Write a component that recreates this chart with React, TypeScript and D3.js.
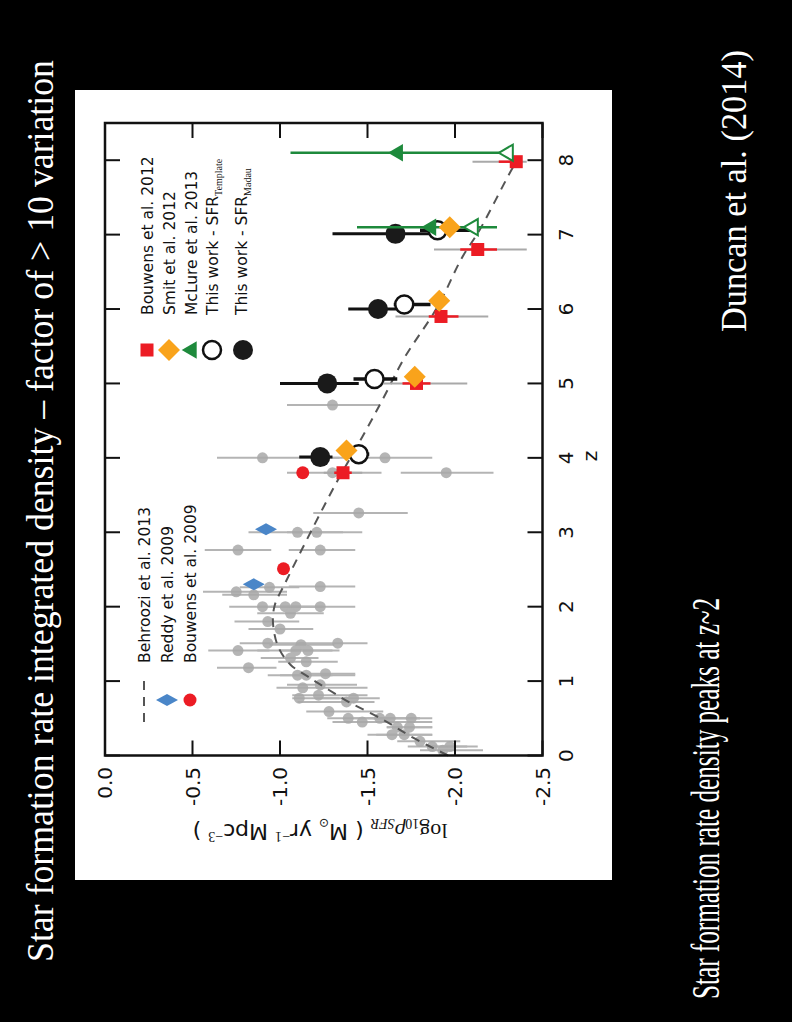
import React from 'react';
import * as d3 from 'd3';

// ---------- data ----------
const zTicks = [0, 1, 2, 3, 4, 5, 6, 7, 8];
const yTicks = [0.0, -0.5, -1.0, -1.5, -2.0, -2.5];
const yTickLabels = ['0.0', '-0.5', '-1.0', '-1.5', '-2.0', '-2.5'];

// Behroozi et al. 2013 fit
const behZ = [0, 0.24, 0.48, 0.71, 0.88, 1.06, 1.22, 1.46, 1.78, 2.02, 2.32, 3.07, 3.7, 4.28, 4.8, 5.34, 6.03, 6.69, 7.06, 7.94, 8.0];
const behV = [-1.96, -1.76, -1.59, -1.40, -1.28, -1.16, -1.06, -0.99, -0.96, -0.97, -1.03, -1.19, -1.33, -1.47, -1.59, -1.71, -1.90, -2.04, -2.14, -2.34, -2.36];

// grey compilation
const grayZ = [4.71, 4.00, 4.00, 3.80, 3.80, 3.26, 3.00, 3.00, 2.76, 2.76, 2.27, 2.20, 2.16, 2.26, 2.00, 2.00, 2.00, 2.00, 1.91, 1.80, 1.70, 1.51, 1.49, 1.51, 1.41, 1.41, 1.41, 1.31, 1.26, 1.18, 1.08, 1.10, 1.08, 0.91, 0.95, 0.81, 0.77, 0.72, 0.77, 0.59, 0.50, 0.45, 0.50, 0.50, 0.50, 0.38, 0.38, 0.28, 0.28, 0.19, 0.12, 0.12, 0.07];
const grayV = [-1.30, -0.90, -1.60, -1.30, -1.95, -1.45, -1.10, -1.21, -0.76, -1.23, -1.23, -0.75, -0.85, -0.94, -0.90, -1.03, -1.09, -1.23, -1.06, -0.93, -1.00, -0.93, -1.12, -1.33, -0.76, -1.09, -1.16, -1.06, -1.15, -0.82, -1.10, -1.26, -1.15, -1.13, -1.23, -1.22, -1.11, -1.38, -1.42, -1.28, -1.39, -1.47, -1.57, -1.63, -1.75, -1.67, -1.74, -1.64, -1.71, -1.80, -1.87, -1.97, -1.93];
const grayHi = [-1.04, -0.64, -1.30, -1.04, -1.69, -1.19, -0.82, -1.04, -0.57, -1.05, -1.05, -0.56, -0.67, -0.77, -0.71, -0.87, -0.95, -1.04, -0.87, -0.74, -0.82, -0.77, -0.94, -1.11, -0.59, -0.87, -1.00, -0.89, -0.99, -0.64, -0.93, -1.11, -1.00, -0.98, -1.04, -1.07, -1.07, -1.10, -1.23, -1.15, -1.27, -1.30, -1.42, -1.50, -1.53, -1.61, -1.61, -1.50, -1.55, -1.67, -1.73, -1.84, -1.80];
const grayLo = [-1.57, -1.34, -1.87, -1.58, -2.22, -1.73, -1.36, -1.47, -0.95, -1.43, -1.43, -1.04, -1.04, -1.11, -1.11, -1.25, -1.24, -1.43, -1.25, -1.11, -1.19, -1.14, -1.31, -1.50, -0.94, -1.30, -1.34, -1.22, -1.33, -0.98, -1.43, -1.43, -1.30, -1.50, -1.44, -1.50, -1.34, -1.54, -1.57, -1.59, -1.63, -1.87, -1.80, -1.80, -1.87, -1.87, -1.87, -1.87, -1.87, -2.03, -2.07, -2.13, -2.16];

// Bouwens et al. 2012 (red squares)
const bou12Z = [3.8, 5.0, 5.9, 6.8, 7.98];
const bou12V = [-1.36, -1.78, -1.92, -2.13, -2.35];
const bou12TotHi = [-1.25, -1.59, -1.66, -1.88, -2.10];
const bou12TotLo = [-1.47, -2.07, -2.19, -2.41, -2.41];
const bou12Hi = [-1.31, -1.70, -1.85, -2.03, -2.25];
const bou12Lo = [-1.41, -1.86, -2.02, -2.24, -2.37];

// Smit et al. 2012 (orange diamonds)
const smitZ = [4.1, 5.09, 6.11, 7.1];
const smitV = [-1.38, -1.77, -1.91, -1.97];

// McLure et al. 2013 (green triangles)
const mclZ = [7.1, 8.1];
const mclV = [-1.86, -1.67];
const mclOpenV = [-2.10, -2.30];
const mclHi = [-1.44, -1.06];
const mclLo = [-2.24, -2.31];

// This work - SFR Template (open circles)
const tplZ = [4.05, 5.06, 6.06, 7.06];
const tplV = [-1.45, -1.54, -1.71, -1.90];
const tplHi = [-1.38, -1.42, -1.65, -1.80];
const tplLo = [-1.51, -1.67, -1.86, -2.09];

// This work - SFR Madau (filled circles)
const madZ = [4.01, 5.0, 6.0, 7.01];
const madV = [-1.23, -1.27, -1.56, -1.66];
const madHi = [-1.11, -1.00, -1.39, -1.30];
const madLo = [-1.30, -1.45, -1.69, -1.87];

// Reddy et al. 2009 (blue thin diamonds)
const reddyZ = [2.3, 3.04];
const reddyV = [-0.85, -0.92];

// Bouwens et al. 2009 (red circles)
const bou09Z = [2.51, 3.8];
const bou09V = [-1.02, -1.13];

// ---------- styles ----------
const RED = '#ec1c24';
const ORANGE = '#f9a31b';
const GREEN = '#1e8a3c';
const BLUE = '#4a86c8';
const SANS = '"DejaVu Sans", sans-serif';
const SERIF = '"Liberation Serif", "DejaVu Serif", serif';

const Square = ({ cx, cy, s, fill }: any) => (
  <rect x={cx - s / 2} y={cy - s / 2} width={s} height={s} fill={fill} />
);
const Diamond = ({ cx, cy, w, h, fill }: any) => (
  <path d={`M${cx},${cy - h} L${cx + w},${cy} L${cx},${cy + h} L${cx - w},${cy} Z`} fill={fill} />
);
const Tri = ({ cx, cy, s, fill, stroke, sw }: any) => (
  <path
    d={`M${cx},${cy - s * 0.62} L${cx + s * 0.58},${cy + s * 0.38} L${cx - s * 0.58},${cy + s * 0.38} Z`}
    fill={fill}
    stroke={stroke || 'none'}
    strokeWidth={sw || 0}
  />
);

export default function App() {
  const x = d3.scaleLinear().domain([0, 8.5]).range([266.5, 899]);
  const y = d3.scaleLinear().domain([-2.5, 0]).range([542.5, 105]);
  const behLine = d3
    .line<number>()
    .x((_, i) => x(behZ[i]))
    .y((d) => y(d))
    .curve(d3.curveCatmullRom.alpha(0.5))(behV) as string;

  const x0 = x(0), x1 = x(8.5), y0 = y(0), y1 = y(-2.5);
  const tickLen = 15;

  return (
    <svg width={792} height={1022} style={{ position: 'absolute', left: 0, top: 0, display: 'block' }}>
      <rect x={0} y={0} width={792} height={1022} fill="#000" />
      <g transform="translate(0,1022) rotate(-90)">
        {/* slide titles */}
        <text x={60} y={53} fill="#fff" fontFamily={SERIF} fontSize={37} textLength={902} lengthAdjust="spacingAndGlyphs">
          Star formation rate integrated density – factor of &gt; 10 variation
        </text>
        <text transform="translate(23,719) scale(0.63,1)" x={0} y={0} fill="#fff" fontFamily={SERIF} fontSize={40}>
          Star formation rate density peaks at z~2
        </text>
        <text x={690} y={746} fill="#fff" fontFamily={SERIF} fontSize={35} textLength={282} lengthAdjust="spacingAndGlyphs">
          Duncan et al. (2014)
        </text>

        {/* white panel */}
        <rect x={142} y={75} width={790} height={537} fill="#fff" />

        {/* grey compilation */}
        <g stroke="#9c9c9c" strokeWidth={2} opacity={0.75}>
          {grayZ.map((z, i) => (
            <line key={'ge' + i} x1={x(z)} x2={x(z)} y1={y(grayHi[i])} y2={y(grayLo[i])} />
          ))}
        </g>
        <g fill="#a9a9a9" opacity={0.85}>
          {grayZ.map((z, i) => (
            <circle key={'gp' + i} cx={x(z)} cy={y(grayV[i])} r={5.5} />
          ))}
        </g>

        {/* Behroozi line */}
        <path d={behLine} fill="none" stroke="#555" strokeWidth={2} strokeDasharray="9,7" />

        {/* Reddy 2009 */}
        {reddyZ.map((z, i) => (
          <Diamond key={'rd' + i} cx={x(z)} cy={y(reddyV[i])} w={6} h={11} fill={BLUE} />
        ))}
        {/* Bouwens 2009 */}
        {bou09Z.map((z, i) => (
          <circle key={'b9' + i} cx={x(z)} cy={y(bou09V[i])} r={6.5} fill={RED} />
        ))}

        {/* This work - Madau */}
        <g stroke="#111" strokeWidth={3}>
          {madZ.map((z, i) => (
            <line key={'me' + i} x1={x(z)} x2={x(z)} y1={y(madHi[i])} y2={y(madLo[i])} />
          ))}
        </g>
        {madZ.map((z, i) => (
          <circle key={'mp' + i} cx={x(z)} cy={y(madV[i])} r={10} fill="#1a1a1a" />
        ))}
        {/* This work - Template */}
        <g stroke="#111" strokeWidth={3.5}>
          {tplZ.map((z, i) => (
            <line key={'te' + i} x1={x(z)} x2={x(z)} y1={y(tplHi[i])} y2={y(tplLo[i])} />
          ))}
        </g>
        {tplZ.map((z, i) => (
          <circle key={'tp' + i} cx={x(z)} cy={y(tplV[i])} r={9} fill="#fff" stroke="#111" strokeWidth={2.5} />
        ))}

        {/* Bouwens 2012 */}
        <g stroke="#a9a9a9" strokeWidth={2}>
          {bou12Z.map((z, i) => (
            <line key={'bt' + i} x1={x(z)} x2={x(z)} y1={y(bou12TotHi[i])} y2={y(bou12TotLo[i])} />
          ))}
        </g>
        <g stroke={RED} strokeWidth={2.5}>
          {bou12Z.map((z, i) => (
            <line key={'be' + i} x1={x(z)} x2={x(z)} y1={y(bou12Hi[i])} y2={y(bou12Lo[i])} />
          ))}
        </g>
        {bou12Z.map((z, i) => (
          <Square key={'bs' + i} cx={x(z)} cy={y(bou12V[i])} s={13} fill={RED} />
        ))}

        {/* McLure 2013 */}
        <g stroke={GREEN} strokeWidth={2.5}>
          {mclZ.map((z, i) => (
            <line key={'ce' + i} x1={x(z)} x2={x(z)} y1={y(mclHi[i])} y2={y(mclLo[i])} />
          ))}
        </g>
        {mclZ.map((z, i) => (
          <Tri key={'co' + i} cx={x(z)} cy={y(mclOpenV[i])} s={14} fill="#fff" stroke={GREEN} sw={2} />
        ))}
        {mclZ.map((z, i) => (
          <Tri key={'cf' + i} cx={x(z)} cy={y(mclV[i])} s={15} fill={GREEN} />
        ))}

        {/* Smit 2012 */}
        {smitZ.map((z, i) => (
          <Diamond key={'sm' + i} cx={x(z)} cy={y(smitV[i])} w={11} h={11} fill={ORANGE} />
        ))}

        {/* frame */}
        <rect x={x0} y={y0} width={x1 - x0} height={y1 - y0} fill="none" stroke="#111" strokeWidth={2.5} />
        <g stroke="#111" strokeWidth={2}>
          {zTicks.map((t) => (
            <g key={'zt' + t}>
              <line x1={x(t)} x2={x(t)} y1={y1} y2={y1 - tickLen} />
              <line x1={x(t)} x2={x(t)} y1={y0} y2={y0 + tickLen} />
            </g>
          ))}
          {yTicks.map((t) => (
            <g key={'yt' + t}>
              <line x1={x0} x2={x0 + tickLen} y1={y(t)} y2={y(t)} />
              <line x1={x1} x2={x1 - tickLen} y1={y(t)} y2={y(t)} />
            </g>
          ))}
        </g>

        {/* tick labels */}
        <g fontFamily={SANS} fontSize={20} fill="#111">
          {zTicks.map((t) => (
            <text key={'zl' + t} x={x(t)} y={573} textAnchor="middle">
              {t}
            </text>
          ))}
          {yTicks.map((t, i) => (
            <text key={'yl' + t} x={255} y={y(t) + 7} textAnchor="end">
              {yTickLabels[i]}
            </text>
          ))}
        </g>
        <text x={566} y={597} textAnchor="middle" fontFamily={SANS} fontSize={20} fill="#111">
          z
        </text>

        {/* y label */}
        <text transform="translate(198,320) rotate(-90)" textAnchor="middle" fill="#111" fontSize={22} fontFamily={SANS}>
          <tspan fontFamily={SERIF}>log</tspan>
          <tspan fontFamily={SERIF} fontSize={14} dy={5}>10</tspan>
          <tspan fontFamily={SERIF} fontStyle="italic" dy={-5}>ρ</tspan>
          <tspan fontFamily={SERIF} fontStyle="italic" fontSize={14} dy={5}>SFR</tspan>
          <tspan dy={-5}> ( M</tspan>
          <tspan fontSize={12} dy={5}>⊙</tspan>
          <tspan dy={-5}> yr</tspan>
          <tspan fontFamily={SERIF} fontSize={14} dy={-8}>−1</tspan>
          <tspan dy={8}> Mpc</tspan>
          <tspan fontFamily={SERIF} fontSize={14} dy={-8}>−3</tspan>
          <tspan dy={8}> )</tspan>
        </text>

        {/* legend (high-z) */}
        <g fontFamily={SANS} fontSize={15.5} fill="#111">
          <Square cx={672} cy={147} s={13} fill={RED} />
          <text x={707} y={152.5}>Bouwens et al. 2012</text>
          <Diamond cx={672} cy={169} w={11} h={11} fill={ORANGE} />
          <text x={707} y={174.5}>Smit et al. 2012</text>
          <Tri cx={672} cy={191} s={15} fill={GREEN} />
          <text x={707} y={196.5}>McLure et al. 2013</text>
          <circle cx={672} cy={212} r={9} fill="#fff" stroke="#111" strokeWidth={2.5} />
          <text x={707} y={217.5}>
            This work - SFR<tspan fontFamily={SERIF} fontSize={10} dy={4}>Template</tspan>
          </text>
          <circle cx={672} cy={243} r={10} fill="#1a1a1a" />
          <text x={707} y={246.5}>
            This work - SFR<tspan fontFamily={SERIF} fontSize={10} dy={4}>Madau</tspan>
          </text>
        </g>

        {/* legend (low-z) */}
        <g fontFamily={SANS} fontSize={15.5} fill="#111">
          <line x1={300} x2={345} y1={144} y2={144} stroke="#555" strokeWidth={2} strokeDasharray="9,7" />
          <text x={359} y={149.5}>Behroozi et al. 2013</text>
          <Diamond cx={322} cy={167} w={6} h={11} fill={BLUE} />
          <text x={359} y={172.5}>Reddy et al. 2009</text>
          <circle cx={322} cy={190} r={6.5} fill={RED} />
          <text x={359} y={195.5}>Bouwens et al. 2009</text>
        </g>
      </g>
    </svg>
  );
}
